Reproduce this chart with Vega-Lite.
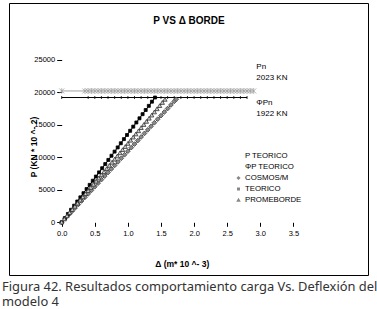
{
  "$schema": "https://vega.github.io/schema/vega-lite/v6.json",
  "width": 359,
  "height": 272,
  "autosize": "none",
  "padding": {"left": 9, "top": 3, "right": 9, "bottom": 34},
  "background": "white",
  "title": {
    "text": ["Figura 42. Resultados comportamiento carga Vs. Deflexión del", "modelo 4"],
    "orient": "bottom",
    "anchor": "start",
    "frame": "group",
    "font": "Noto Sans",
    "fontSize": 12.9,
    "fontWeight": "normal",
    "color": "#333333",
    "lineHeight": 15,
    "offset": 6,
    "dx": -7
  },
  "config": {
    "view": {"stroke": "black", "strokeWidth": 1},
    "font": "Liberation Sans"
  },
  "datasets": {
    "series": [
      {"s": "P TEORICO", "d": 0, "p": 20230},
      {"s": "P TEORICO", "d": 0.35, "p": 20230},
      {"s": "P TEORICO", "d": 0.40, "p": 20230},
      {"s": "P TEORICO", "d": 0.45, "p": 20230},
      {"s": "P TEORICO", "d": 0.50, "p": 20230},
      {"s": "P TEORICO", "d": 0.55, "p": 20230},
      {"s": "P TEORICO", "d": 0.60, "p": 20230},
      {"s": "P TEORICO", "d": 0.65, "p": 20230},
      {"s": "P TEORICO", "d": 0.70, "p": 20230},
      {"s": "P TEORICO", "d": 0.75, "p": 20230},
      {"s": "P TEORICO", "d": 0.80, "p": 20230},
      {"s": "P TEORICO", "d": 0.85, "p": 20230},
      {"s": "P TEORICO", "d": 0.90, "p": 20230},
      {"s": "P TEORICO", "d": 0.95, "p": 20230},
      {"s": "P TEORICO", "d": 1.00, "p": 20230},
      {"s": "P TEORICO", "d": 1.05, "p": 20230},
      {"s": "P TEORICO", "d": 1.10, "p": 20230},
      {"s": "P TEORICO", "d": 1.15, "p": 20230},
      {"s": "P TEORICO", "d": 1.20, "p": 20230},
      {"s": "P TEORICO", "d": 1.25, "p": 20230},
      {"s": "P TEORICO", "d": 1.30, "p": 20230},
      {"s": "P TEORICO", "d": 1.35, "p": 20230},
      {"s": "P TEORICO", "d": 1.40, "p": 20230},
      {"s": "P TEORICO", "d": 1.45, "p": 20230},
      {"s": "P TEORICO", "d": 1.50, "p": 20230},
      {"s": "P TEORICO", "d": 1.55, "p": 20230},
      {"s": "P TEORICO", "d": 1.60, "p": 20230},
      {"s": "P TEORICO", "d": 1.65, "p": 20230},
      {"s": "P TEORICO", "d": 1.70, "p": 20230},
      {"s": "P TEORICO", "d": 1.75, "p": 20230},
      {"s": "P TEORICO", "d": 1.80, "p": 20230},
      {"s": "P TEORICO", "d": 1.85, "p": 20230},
      {"s": "P TEORICO", "d": 1.90, "p": 20230},
      {"s": "P TEORICO", "d": 1.95, "p": 20230},
      {"s": "P TEORICO", "d": 2.00, "p": 20230},
      {"s": "P TEORICO", "d": 2.05, "p": 20230},
      {"s": "P TEORICO", "d": 2.10, "p": 20230},
      {"s": "P TEORICO", "d": 2.15, "p": 20230},
      {"s": "P TEORICO", "d": 2.20, "p": 20230},
      {"s": "P TEORICO", "d": 2.25, "p": 20230},
      {"s": "P TEORICO", "d": 2.30, "p": 20230},
      {"s": "P TEORICO", "d": 2.35, "p": 20230},
      {"s": "P TEORICO", "d": 2.40, "p": 20230},
      {"s": "P TEORICO", "d": 2.45, "p": 20230},
      {"s": "P TEORICO", "d": 2.50, "p": 20230},
      {"s": "P TEORICO", "d": 2.55, "p": 20230},
      {"s": "P TEORICO", "d": 2.60, "p": 20230},
      {"s": "P TEORICO", "d": 2.65, "p": 20230},
      {"s": "P TEORICO", "d": 2.70, "p": 20230},
      {"s": "P TEORICO", "d": 2.75, "p": 20230},
      {"s": "P TEORICO", "d": 2.80, "p": 20230},
      {"s": "P TEORICO", "d": 2.85, "p": 20230},
      {"s": "P TEORICO", "d": 2.90, "p": 20230},
      {"s": "ΦP TEORICO", "d": 0, "p": 19220},
      {"s": "ΦP TEORICO", "d": 0.4, "p": 19220},
      {"s": "ΦP TEORICO", "d": 0.5, "p": 19220},
      {"s": "ΦP TEORICO", "d": 0.6, "p": 19220},
      {"s": "ΦP TEORICO", "d": 0.7, "p": 19220},
      {"s": "ΦP TEORICO", "d": 0.8, "p": 19220},
      {"s": "ΦP TEORICO", "d": 0.9, "p": 19220},
      {"s": "ΦP TEORICO", "d": 1.0, "p": 19220},
      {"s": "ΦP TEORICO", "d": 1.1, "p": 19220},
      {"s": "ΦP TEORICO", "d": 1.2, "p": 19220},
      {"s": "ΦP TEORICO", "d": 1.3, "p": 19220},
      {"s": "ΦP TEORICO", "d": 1.4, "p": 19220},
      {"s": "ΦP TEORICO", "d": 1.5, "p": 19220},
      {"s": "ΦP TEORICO", "d": 1.6, "p": 19220},
      {"s": "ΦP TEORICO", "d": 1.7, "p": 19220},
      {"s": "ΦP TEORICO", "d": 1.8, "p": 19220},
      {"s": "ΦP TEORICO", "d": 1.9, "p": 19220},
      {"s": "ΦP TEORICO", "d": 2.0, "p": 19220},
      {"s": "ΦP TEORICO", "d": 2.1, "p": 19220},
      {"s": "ΦP TEORICO", "d": 2.2, "p": 19220},
      {"s": "ΦP TEORICO", "d": 2.3, "p": 19220},
      {"s": "ΦP TEORICO", "d": 2.4, "p": 19220},
      {"s": "ΦP TEORICO", "d": 2.5, "p": 19220},
      {"s": "ΦP TEORICO", "d": 2.6, "p": 19220},
      {"s": "ΦP TEORICO", "d": 2.7, "p": 19220},
      {"s": "ΦP TEORICO", "d": 2.8, "p": 19220},
      {"s": "COSMOS/M", "d": 0, "p": 0},
      {"s": "COSMOS/M", "d": 0.05, "p": 548},
      {"s": "COSMOS/M", "d": 0.10, "p": 1095},
      {"s": "COSMOS/M", "d": 0.15, "p": 1643},
      {"s": "COSMOS/M", "d": 0.20, "p": 2191},
      {"s": "COSMOS/M", "d": 0.25, "p": 2739},
      {"s": "COSMOS/M", "d": 0.30, "p": 3286},
      {"s": "COSMOS/M", "d": 0.35, "p": 3834},
      {"s": "COSMOS/M", "d": 0.40, "p": 4382},
      {"s": "COSMOS/M", "d": 0.45, "p": 4929},
      {"s": "COSMOS/M", "d": 0.50, "p": 5477},
      {"s": "COSMOS/M", "d": 0.55, "p": 6025},
      {"s": "COSMOS/M", "d": 0.60, "p": 6572},
      {"s": "COSMOS/M", "d": 0.65, "p": 7120},
      {"s": "COSMOS/M", "d": 0.70, "p": 7668},
      {"s": "COSMOS/M", "d": 0.75, "p": 8216},
      {"s": "COSMOS/M", "d": 0.80, "p": 8763},
      {"s": "COSMOS/M", "d": 0.85, "p": 9311},
      {"s": "COSMOS/M", "d": 0.90, "p": 9859},
      {"s": "COSMOS/M", "d": 0.95, "p": 10406},
      {"s": "COSMOS/M", "d": 1.00, "p": 10954},
      {"s": "COSMOS/M", "d": 1.05, "p": 11502},
      {"s": "COSMOS/M", "d": 1.10, "p": 12049},
      {"s": "COSMOS/M", "d": 1.15, "p": 12597},
      {"s": "COSMOS/M", "d": 1.20, "p": 13145},
      {"s": "COSMOS/M", "d": 1.25, "p": 13693},
      {"s": "COSMOS/M", "d": 1.30, "p": 14240},
      {"s": "COSMOS/M", "d": 1.35, "p": 14788},
      {"s": "COSMOS/M", "d": 1.40, "p": 15336},
      {"s": "COSMOS/M", "d": 1.45, "p": 15883},
      {"s": "COSMOS/M", "d": 1.50, "p": 16431},
      {"s": "COSMOS/M", "d": 1.55, "p": 16979},
      {"s": "COSMOS/M", "d": 1.60, "p": 17526},
      {"s": "COSMOS/M", "d": 1.65, "p": 18074},
      {"s": "COSMOS/M", "d": 1.70, "p": 18622},
      {"s": "COSMOS/M", "d": 1.73, "p": 18950},
      {"s": "TEORICO", "d": 0, "p": 0},
      {"s": "TEORICO", "d": 0.047, "p": 641},
      {"s": "TEORICO", "d": 0.094, "p": 1281},
      {"s": "TEORICO", "d": 0.141, "p": 1922},
      {"s": "TEORICO", "d": 0.188, "p": 2563},
      {"s": "TEORICO", "d": 0.235, "p": 3203},
      {"s": "TEORICO", "d": 0.282, "p": 3844},
      {"s": "TEORICO", "d": 0.329, "p": 4485},
      {"s": "TEORICO", "d": 0.376, "p": 5125},
      {"s": "TEORICO", "d": 0.423, "p": 5766},
      {"s": "TEORICO", "d": 0.470, "p": 6407},
      {"s": "TEORICO", "d": 0.517, "p": 7047},
      {"s": "TEORICO", "d": 0.564, "p": 7688},
      {"s": "TEORICO", "d": 0.611, "p": 8329},
      {"s": "TEORICO", "d": 0.658, "p": 8969},
      {"s": "TEORICO", "d": 0.705, "p": 9610},
      {"s": "TEORICO", "d": 0.752, "p": 10251},
      {"s": "TEORICO", "d": 0.799, "p": 10891},
      {"s": "TEORICO", "d": 0.846, "p": 11532},
      {"s": "TEORICO", "d": 0.893, "p": 12173},
      {"s": "TEORICO", "d": 0.940, "p": 12813},
      {"s": "TEORICO", "d": 0.987, "p": 13454},
      {"s": "TEORICO", "d": 1.034, "p": 14094},
      {"s": "TEORICO", "d": 1.081, "p": 14735},
      {"s": "TEORICO", "d": 1.128, "p": 15376},
      {"s": "TEORICO", "d": 1.175, "p": 16016},
      {"s": "TEORICO", "d": 1.222, "p": 16657},
      {"s": "TEORICO", "d": 1.269, "p": 17298},
      {"s": "TEORICO", "d": 1.316, "p": 17938},
      {"s": "TEORICO", "d": 1.363, "p": 18579},
      {"s": "TEORICO", "d": 1.410, "p": 19220},
      {"s": "PROMEBORDE", "d": 0, "p": 0},
      {"s": "PROMEBORDE", "d": 0.04, "p": 485},
      {"s": "PROMEBORDE", "d": 0.08, "p": 969},
      {"s": "PROMEBORDE", "d": 0.12, "p": 1454},
      {"s": "PROMEBORDE", "d": 0.16, "p": 1938},
      {"s": "PROMEBORDE", "d": 0.20, "p": 2423},
      {"s": "PROMEBORDE", "d": 0.24, "p": 2908},
      {"s": "PROMEBORDE", "d": 0.28, "p": 3392},
      {"s": "PROMEBORDE", "d": 0.32, "p": 3877},
      {"s": "PROMEBORDE", "d": 0.36, "p": 4361},
      {"s": "PROMEBORDE", "d": 0.40, "p": 4846},
      {"s": "PROMEBORDE", "d": 0.44, "p": 5331},
      {"s": "PROMEBORDE", "d": 0.48, "p": 5815},
      {"s": "PROMEBORDE", "d": 0.52, "p": 6300},
      {"s": "PROMEBORDE", "d": 0.56, "p": 6784},
      {"s": "PROMEBORDE", "d": 0.60, "p": 7269},
      {"s": "PROMEBORDE", "d": 0.64, "p": 7754},
      {"s": "PROMEBORDE", "d": 0.68, "p": 8238},
      {"s": "PROMEBORDE", "d": 0.72, "p": 8723},
      {"s": "PROMEBORDE", "d": 0.76, "p": 9207},
      {"s": "PROMEBORDE", "d": 0.80, "p": 9692},
      {"s": "PROMEBORDE", "d": 0.84, "p": 10177},
      {"s": "PROMEBORDE", "d": 0.88, "p": 10661},
      {"s": "PROMEBORDE", "d": 0.92, "p": 11146},
      {"s": "PROMEBORDE", "d": 0.96, "p": 11630},
      {"s": "PROMEBORDE", "d": 1.00, "p": 12115},
      {"s": "PROMEBORDE", "d": 1.04, "p": 12600},
      {"s": "PROMEBORDE", "d": 1.08, "p": 13084},
      {"s": "PROMEBORDE", "d": 1.12, "p": 13569},
      {"s": "PROMEBORDE", "d": 1.16, "p": 14053},
      {"s": "PROMEBORDE", "d": 1.20, "p": 14538},
      {"s": "PROMEBORDE", "d": 1.24, "p": 15023},
      {"s": "PROMEBORDE", "d": 1.28, "p": 15507},
      {"s": "PROMEBORDE", "d": 1.32, "p": 15992},
      {"s": "PROMEBORDE", "d": 1.36, "p": 16476},
      {"s": "PROMEBORDE", "d": 1.40, "p": 16961},
      {"s": "PROMEBORDE", "d": 1.44, "p": 17446},
      {"s": "PROMEBORDE", "d": 1.48, "p": 17930},
      {"s": "PROMEBORDE", "d": 1.52, "p": 18415},
      {"s": "PROMEBORDE", "d": 1.56, "p": 18900}
    ],
    "notes": [
      {"t": "Pn", "d": 2.94, "p": 23920},
      {"t": "2023 KN", "d": 2.94, "p": 22220},
      {"t": "ΦPn", "d": 2.94, "p": 18360},
      {"t": "1922 KN", "d": 2.94, "p": 16670}
    ]
  },
  "resolve": {"axis": {"x": "independent"}, "scale": {"shape": "independent"}, "legend": {"shape": "independent"}},
  "layer": [
    {
      "data": {"name": "series"},
      "mark": {"type": "line", "strokeWidth": 1, "clip": false},
      "encoding": {
        "x": {
          "field": "d", "type": "quantitative",
          "scale": {"domain": [-0.796, 4.627], "nice": false, "zero": false},
          "axis": {
            "orient": "bottom",
            "offset": -52.7,
            "values": [0, 0.5, 1, 1.5, 2, 2.5, 3, 3.5],
            "format": ".1f",
            "domain": false,
            "grid": false,
            "tickColor": "black",
            "tickSize": 4,
            "labelFont": "Liberation Sans",
            "labelFontSize": 7.5,
            "labelColor": "black",
            "labelPadding": 3,
            "title": "Δ (m* 10 ^- 3)",
            "titleFont": "Liberation Sans",
            "titleFontSize": 8.5,
            "titleFontWeight": "bold",
            "titleColor": "black",
            "titleX": 172.7,
            "titleY": 40.7,
            "titleBaseline": "middle",
            "titleAlign": "center"
          }
        },
        "y": {
          "field": "p", "type": "quantitative",
          "scale": {"domain": [-8118, 33780], "nice": false, "zero": false},
          "axis": {
            "orient": "left",
            "offset": -52.7,
            "values": [0, 5000, 10000, 15000, 20000, 25000],
            "format": "d",
            "domain": false,
            "grid": false,
            "tickColor": "black",
            "tickSize": 5,
            "labelFont": "Liberation Sans",
            "labelFontSize": 7.5,
            "labelColor": "black",
            "labelPadding": 2,
            "title": "P (KN * 10 ^- 2)",
            "titleFont": "Liberation Sans",
            "titleFontSize": 8.5,
            "titleFontWeight": "bold",
            "titleColor": "black",
            "titleX": -28.7,
            "titleY": 143.5,
            "titleBaseline": "middle",
            "titleAlign": "center",
            "titleAngle": 270
          }
        },
        "detail": {"field": "s"},
        "stroke": {
          "field": "s", "type": "nominal",
          "scale": {
            "domain": ["P TEORICO", "ΦP TEORICO", "COSMOS/M", "TEORICO", "PROMEBORDE"],
            "range": ["#a0a0a0", "#000000", "#444444", "#000000", "#333333"]
          },
          "legend": null
        }
      }
    },
    {
      "data": {"name": "series"},
      "mark": {"type": "point", "filled": false, "strokeWidth": 0.8, "opacity": 1, "size": 25, "clip": false},
      "encoding": {
        "x": {"field": "d", "type": "quantitative", "axis": null},
        "y": {"field": "p", "type": "quantitative"},
        "stroke": {"field": "s", "type": "nominal", "legend": null},
        "fill": {
          "field": "s", "type": "nominal",
          "scale": {
            "domain": ["P TEORICO", "ΦP TEORICO", "COSMOS/M", "TEORICO", "PROMEBORDE"],
            "range": ["transparent", "#000000", "#8c8c8c", "#000000", "#d0d0d0"]
          },
          "legend": null
        },
        "shape": {
          "field": "s", "type": "nominal",
          "scale": {
            "domain": ["P TEORICO", "ΦP TEORICO", "COSMOS/M", "TEORICO", "PROMEBORDE"],
            "range": [
              "M-1,-1L1,1M-1,1L1,-1M0,-1.1L0,1.1",
              "M0,-0.6L0,0.6",
              "M0,-0.95L0.95,0L0,0.95L-0.95,0Z",
              "M-0.6,-0.6L0.6,-0.6L0.6,0.6L-0.6,0.6Z",
              "M0,-0.85L0.85,0.65L-0.85,0.65Z"
            ]
          },
          "legend": null
        }
      }
    },
    {
      "data": {"name": "series"},
      "transform": [{"filter": "datum.d < -5"}],
      "mark": {"type": "point", "filled": false, "stroke": "#333333", "fill": "#888888", "strokeWidth": 0.8, "opacity": 1, "size": 144},
      "encoding": {
        "x": {"field": "d", "type": "quantitative", "axis": null},
        "y": {"field": "p", "type": "quantitative"},
        "shape": {
          "field": "s", "type": "nominal",
          "scale": {
            "domain": ["P TEORICO", "ΦP TEORICO", "COSMOS/M", "TEORICO", "PROMEBORDE"],
            "range": [
              "M-1,0L1,0M-0.35,-0.35L0.35,0.35M-0.35,0.35L0.35,-0.35M0,-0.45L0,0.45",
              "M-1,0L1,0M0,-0.25L0,0.25",
              "M-1,0L1,0M0,-0.35L0.35,0L0,0.35L-0.35,0Z",
              "M-1,0L1,0M-0.25,-0.25L0.25,-0.25L0.25,0.25L-0.25,0.25Z",
              "M-1,0L1,0M0,-0.38L0.38,0.3L-0.38,0.3Z"
            ]
          },
          "legend": {
            "orient": "none",
            "legendX": 223,
            "legendY": 146.5,
            "title": null,
            "padding": 0,
            "rowPadding": -1.4,
            "symbolSize": 144,
            "symbolStrokeWidth": 0.8,
            "symbolStrokeColor": "#333333",
            "symbolFillColor": "#888888",
            "labelFont": "Liberation Sans",
            "labelFontSize": 7.8,
            "labelColor": "black",
            "labelOffset": 0
          }
        }
      }
    },
    {
      "data": {"name": "notes"},
      "mark": {"type": "text", "align": "left", "baseline": "middle", "font": "Liberation Sans", "fontSize": 8, "color": "black", "clip": false},
      "encoding": {
        "x": {"field": "d", "type": "quantitative", "axis": null},
        "y": {"field": "p", "type": "quantitative"},
        "text": {"field": "t"}
      }
    },
    {
      "mark": {"type": "rule", "color": "black", "strokeWidth": 1},
      "encoding": {
        "x": {"datum": 0, "axis": null},
        "x2": {"datum": 3.5},
        "y": {"datum": 0}
      }
    },
    {
      "mark": {"type": "rule", "color": "black", "strokeWidth": 1},
      "encoding": {
        "x": {"datum": 0, "axis": null},
        "y": {"datum": 0},
        "y2": {"datum": 25000}
      }
    },
    {
      "data": {"values": [{"d": 0}]},
      "mark": {"type": "point", "opacity": 0},
      "encoding": {
        "x": {
          "field": "d", "type": "quantitative",
          "axis": {
            "orient": "top",
            "domain": false,
            "ticks": false,
            "labels": false,
            "grid": false,
            "title": "P VS Δ BORDE",
            "titleFont": "Liberation Sans",
            "titleFontSize": 10,
            "titleFontWeight": "bold",
            "titleColor": "black",
            "titleY": 17,
            "titleBaseline": "middle"
          }
        }
      }
    }
  ]
}
